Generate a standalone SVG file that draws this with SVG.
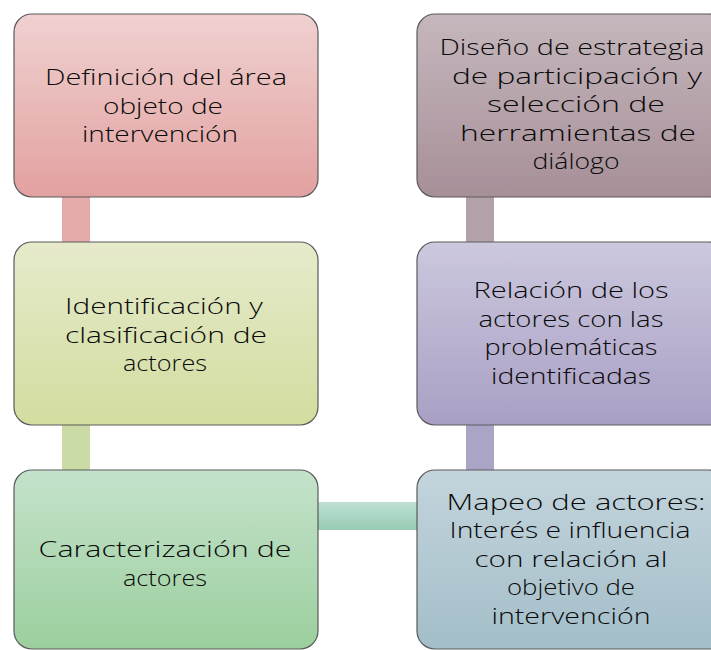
<svg xmlns="http://www.w3.org/2000/svg" width="711" height="650" viewBox="0 0 711 650">
<style>
.box{stroke:#5a5a5a;stroke-width:1.2}
.t{font-family:"Open Sans","DejaVu Sans","Liberation Sans",sans-serif;font-weight:360;font-size:22.5px;fill:#0a0a0a;text-anchor:middle}
</style>
<defs>
<linearGradient id="g1" x1="0" y1="0" x2="0" y2="1"><stop offset="0" stop-color="#efd1d0"/><stop offset="1" stop-color="#e2a1a0"/></linearGradient>
<linearGradient id="g2" x1="0" y1="0" x2="0" y2="1"><stop offset="0" stop-color="#e6eacb"/><stop offset="1" stop-color="#d2dd9f"/></linearGradient>
<linearGradient id="g3" x1="0" y1="0" x2="0" y2="1"><stop offset="0" stop-color="#c4e2cb"/><stop offset="1" stop-color="#9ccf9e"/></linearGradient>
<linearGradient id="g4" x1="0" y1="0" x2="0" y2="1"><stop offset="0" stop-color="#c5b7bd"/><stop offset="1" stop-color="#a78f98"/></linearGradient>
<linearGradient id="g5" x1="0" y1="0" x2="0" y2="1"><stop offset="0" stop-color="#ccc8de"/><stop offset="1" stop-color="#a99fc4"/></linearGradient>
<linearGradient id="g6" x1="0" y1="0" x2="0" y2="1"><stop offset="0" stop-color="#c3d4dc"/><stop offset="1" stop-color="#a3bec9"/></linearGradient>
<linearGradient id="gh" x1="0" y1="0" x2="0" y2="1"><stop offset="0" stop-color="#bfe1d4"/><stop offset="1" stop-color="#97cbb4"/></linearGradient>
</defs>
<g id="connectors">
<rect x="62" y="197" width="28" height="45" fill="#e5abaa"/>
<rect x="62" y="425" width="28" height="45" fill="#cbdba5"/>
<rect x="318" y="502" width="99" height="28" fill="url(#gh)"/>
<rect x="466" y="425" width="28" height="45" fill="#aaa5c7"/>
<rect x="466" y="197" width="28" height="45" fill="#b4a2aa"/>
</g>
<g id="n1">
<rect class="box" x="14" y="14" width="304" height="183" rx="18" fill="url(#g1)"/>
<text class="t" x="166" y="85" textLength="242" lengthAdjust="spacingAndGlyphs">Definición del área</text>
<text class="t" x="163" y="113.5" textLength="120" lengthAdjust="spacingAndGlyphs">objeto de</text>
<text class="t" x="160" y="142" textLength="156" lengthAdjust="spacingAndGlyphs">intervención</text>
</g>
<g id="n2">
<rect class="box" x="14" y="242" width="304" height="183" rx="18" fill="url(#g2)"/>
<text class="t" x="164" y="314" textLength="198" lengthAdjust="spacingAndGlyphs">Identificación y</text>
<text class="t" x="166" y="342.5" textLength="202" lengthAdjust="spacingAndGlyphs">clasificación de</text>
<text class="t" x="165" y="371" textLength="84" lengthAdjust="spacingAndGlyphs">actores</text>
</g>
<g id="n3">
<rect class="box" x="14" y="470" width="304" height="179" rx="18" fill="url(#g3)"/>
<text class="t" x="165" y="557" textLength="253" lengthAdjust="spacingAndGlyphs">Caracterización de</text>
<text class="t" x="165" y="585.5" textLength="84" lengthAdjust="spacingAndGlyphs">actores</text>
</g>
<g id="n4">
<rect class="box" x="417" y="14" width="310" height="183" rx="18" fill="url(#g4)"/>
<text class="t" x="572" y="55" textLength="265" lengthAdjust="spacingAndGlyphs">Diseño de estrategia</text>
<text class="t" x="577" y="83.5" textLength="250" lengthAdjust="spacingAndGlyphs">de participación y</text>
<text class="t" x="576" y="112" textLength="178" lengthAdjust="spacingAndGlyphs">selección de</text>
<text class="t" x="578" y="140.5" textLength="236" lengthAdjust="spacingAndGlyphs">herramientas de</text>
<text class="t" x="576" y="169" textLength="87" lengthAdjust="spacingAndGlyphs">diálogo</text>
</g>
<g id="n5">
<rect class="box" x="417" y="242" width="310" height="183" rx="18" fill="url(#g5)"/>
<text class="t" x="571" y="298" textLength="195" lengthAdjust="spacingAndGlyphs">Relación de los</text>
<text class="t" x="571" y="326.5" textLength="185" lengthAdjust="spacingAndGlyphs">actores con las</text>
<text class="t" x="571" y="355" textLength="173" lengthAdjust="spacingAndGlyphs">problemáticas</text>
<text class="t" x="571" y="383.5" textLength="160" lengthAdjust="spacingAndGlyphs">identificadas</text>
</g>
<g id="n6">
<rect class="box" x="417" y="470" width="310" height="179" rx="18" fill="url(#g6)"/>
<text class="t" x="576" y="509.5" textLength="259" lengthAdjust="spacingAndGlyphs">Mapeo de actores:</text>
<text class="t" x="570" y="538" textLength="241" lengthAdjust="spacingAndGlyphs">Interés e influencia</text>
<text class="t" x="571" y="566.5" textLength="193" lengthAdjust="spacingAndGlyphs">con relación al</text>
<text class="t" x="571" y="595" textLength="128" lengthAdjust="spacingAndGlyphs">objetivo de</text>
<text class="t" x="571" y="623.5" textLength="159" lengthAdjust="spacingAndGlyphs">intervención</text>
</g>
</svg>
